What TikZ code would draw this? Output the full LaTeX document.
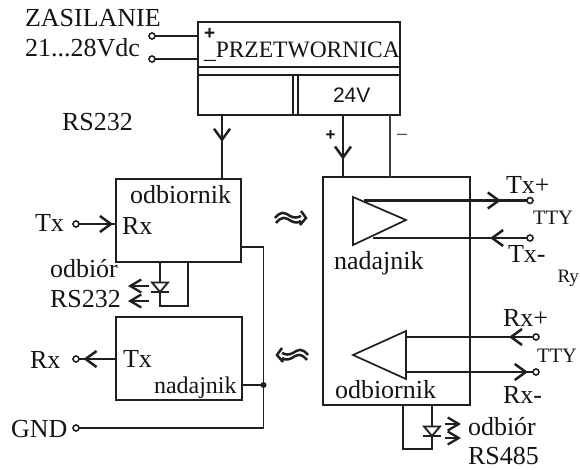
\documentclass[tikz,border=0pt]{standalone}
\usepackage{fontspec}
\setmainfont{Liberation Serif}
\setsansfont{Liberation Sans}
\usetikzlibrary{arrows.meta, decorations.markings}

\begin{document}
\begin{tikzpicture}[x=1pt, y=-1pt,
        every node/.style={inner sep=0pt, outer sep=0pt, text=black!92},
        lbl/.style={anchor=base west, font=\fontsize{26}{30}\selectfont},
        lblmid/.style={anchor=base west, font=\fontsize{24}{28}\selectfont},
        lblsmall/.style={anchor=base west, font=\fontsize{20.5}{24}\selectfont},
        lblsans/.style={anchor=base west, font=\sffamily\fontsize{21}{24}\selectfont},
        blockbox/.style={draw=black!88, line width=2.2pt, minimum width=#1},
        term/.style={circle, draw=black!88, fill=white, line width=1.6pt, minimum size=6pt},
        wire/.style={draw=black!88, line width=1.7pt},
        wirethick/.style={draw=black!88, line width=2.8pt},
        barb/.tip={Straight Barb[length=11pt, width=16pt, line width=2.5pt]},
        midtip/.style={postaction={decorate}, decoration={markings,
            mark=at position #1 with {\arrow{barb}}}},
        ledtip/.style={draw=black!88, line width=1.7pt, -{Straight Barb[length=11pt, width=13pt, line width=2.3pt]}},
        waves/.pic={
            \draw[line width=2.5pt, black!88]
                (-15,1) .. controls (-9,-6) and (-6,-5) .. (0,-1) .. controls (4,1) and (7,1) .. (11,-1)
                (-14,6) .. controls (-8,-1) and (-5,0) .. (1,4) .. controls (5,6) and (8,6) .. (11,4)
                (11,-6) -- (16,1) -- (10,8);
        },
        ledv/.pic={
            \draw[line width=1.8pt, black!88, fill=white] (-8,-9.5) -- (8,-9.5) -- (0,0) -- cycle;
            \draw[line width=1.8pt, black!88] (-9,0) -- (9,0);
        }]
    \useasboundingbox (0,0) rectangle (580,470);

    % przetwornica
    \draw (299,68.5) node[blockbox=202pt, minimum height=93pt] (conv) {};
    \draw[wire, line width=2.2pt] (conv.west |- 0,67) -- (conv.east |- 0,67);
    \draw[wire, line width=1.2pt] (conv.west |- 0,75) -- (conv.east |- 0,75);
    \draw[wire, line width=1.2pt] (293,75) -- (293,115) (298,75) -- (298,115);
    \draw (204,58) node[lblmid, font=\fontsize{23.5}{28}\selectfont] (convname) {\raisebox{-1pt}{\_}PRZETWORNICA};
    \draw (204,39.5) node[lblsans, font=\sffamily\bfseries\fontsize{19}{20}\selectfont] (convplus) {+};
    \draw (333,103) node[lblsans] (volt) {24V};

    % zasilanie
    \draw (25,27) node[lbl] (zas) {ZASILANIE};
    \draw (25,57) node[lbl] (zasv) {21...28Vdc};
    \draw (152,36) node[term] (inplus) {};
    \draw (152,59) node[term] (inminus) {};
    \draw[wire] (inplus) -- (inplus -| conv.west);
    \draw[wire] (inminus) -- (inminus -| conv.west);

    \draw (62,131) node[lbl] (rs) {RS232};

    % odbiornik RS232
    \draw (178.5,220.5) node[blockbox=125pt, minimum height=83pt] (rxbox) {};
    \draw (130,204) node[lbl] (rxname) {odbiornik};
    \draw (122,234) node[lbl] (rxpin) {Rx};
    \draw (35,231) node[lbl] (txlbl) {Tx};
    \draw (76,224) node[term] (txterm) {};
    \draw[wire, midtip=0.92] (txterm) -- (txterm -| rxbox.west);
    \draw[wire, midtip=0.42] (222,115) -- (222,179);

    % nadajnik RS232
    \draw (179,358.5) node[blockbox=126pt, minimum height=83pt] (txbox) {};
    \draw (123,367) node[lbl] (txpin) {Tx};
    \draw (154,393) node[lblmid] (txname) {nadajnik};
    \draw (30,368) node[lbl] (rxlbl) {Rx};
    \draw (76,359) node[term] (rxterm) {};
    \draw[wire, midtip=0.88] (txbox.west |- rxterm) -- (rxterm);

    % masa
    \draw (11,437) node[lbl] (gnd) {GND};
    \draw (76,428) node[term] (gndterm) {};
    \draw (263.5,385) node[circle, fill=black!88, minimum size=6pt] (joint) {};
    \draw[wire] (241,247) -- (263.5,247) -- (263.5,428) -- (gndterm);
    \draw[wire] (txbox.east |- joint) -- (joint);

    % odbior RS232
    \draw (50,277) node[lbl] (od1) {odbiór};
    \draw (50,307) node[lbl] (od1b) {RS232};
    \draw[wire] (160,262) -- (160,306) -- (188,306) -- (188,262);
    \draw (160,292) pic {ledv};
    \draw (149,286) coordinate (leda) (128,286) coordinate (ledb) (149,301) coordinate (ledc) (128,301) coordinate (ledd);
    \draw[ledtip] (leda) -- (ledb);
    \draw[ledtip] (ledc) -- (ledd);

    % falki
    \draw (290,217) pic {waves};
    \draw (293,354) pic[xscale=-1] {waves};

    % duzy blok
    \draw (396.5,291) node[blockbox=147pt, minimum height=228pt] (bus) {};
    \draw[wire, midtip=0.72] (343,115) -- (343,177);
    \draw[draw=black!75, line width=1.4pt] (390,115) -- (390,177);
    \draw (325.5,141) node[lblsans, font=\sffamily\bfseries\fontsize{17}{20}\selectfont] (busplus) {+};
    \draw (397,140) node[lblsans, font=\sffamily\fontsize{18}{20}\selectfont, text=black!70] (busminus) {--};

    % nadajnik RS485
    \draw[wire] (353,197) coordinate (ta) -- (406,220) coordinate (tb) -- (353,245) coordinate (tc) -- cycle;
    \draw (334,269) node[lbl] (drvname) {nadajnik};
    \draw (530,200.5) node[term] (ttxp) {};
    \draw (530,238) node[term] (ttxm) {};
    \draw[wirethick, midtip=0.84] (364,200.5) -- (ttxp);
    \draw[wire, midtip=0.24] (ttxm) -- (373,238);
    \draw (506,194) node[lbl] (txp) {Tx+};
    \draw (533,225) node[lblsmall] (tty1) {TTY};
    \draw (508,262) node[lbl] (txm) {Tx-};
    \draw (557.5,282) node[anchor=base west, font=\fontsize{19}{24}\selectfont] (ry) {Ry};

    % odbiornik RS485
    \draw[wire] (353,355) -- (406,331) -- (406,379) -- cycle;
    \draw (335,398) node[lbl] (recname) {odbiornik};
    \draw (536,337) node[term] (trxp) {};
    \draw (536,372) node[term] (trxm) {};
    \draw[wire, midtip=0.19] (trxp) -- (406,337);
    \draw[wirethick, midtip=0.96] (406,372) -- (trxm);
    \draw (503,326) node[lbl] (rxp) {Rx+};
    \draw (537,362) node[lblsmall] (tty2) {TTY};
    \draw (503,403) node[lbl] (rxm) {Rx-};

    % odbior RS485
    \draw[wire] (403,405) -- (403,449) -- (432,449) -- (432,405);
    \draw (432,436) pic {ledv};
    \draw (445,424) coordinate (lede) (461,424) coordinate (ledf) (445,438) coordinate (ledg) (461,438) coordinate (ledh);
    \draw[ledtip] (lede) -- (ledf);
    \draw[ledtip] (ledg) -- (ledh);
    \draw (468,435) node[lbl] (od2) {odbiór};
    \draw (468,464) node[lbl] (od2b) {RS485};
\end{tikzpicture}
\end{document}
